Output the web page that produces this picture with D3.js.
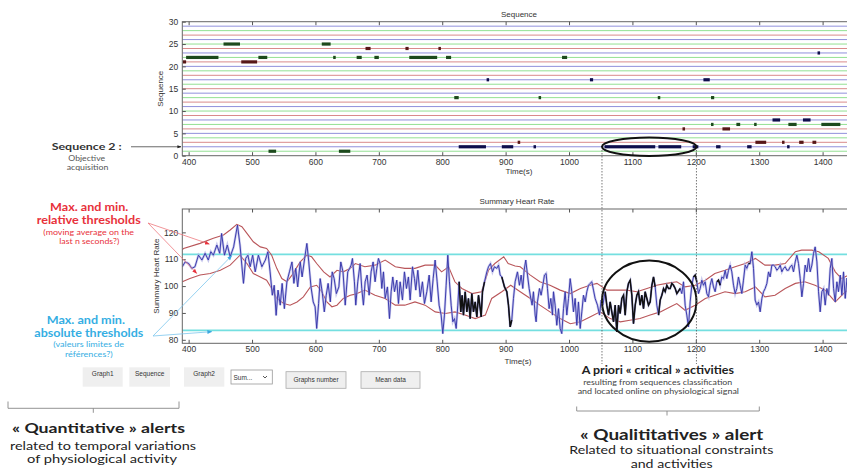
<!DOCTYPE html>
<html lang="en">
<head>
<meta charset="UTF-8">
<title>Sequence and Summary Heart Rate</title>
<script src="https://d3js.org/d3.v7.min.js"></script>
<style>
  body { margin: 0; background: #fff; }
  svg { display: block; }
  .axis text { font-family: "Liberation Sans", Arial, sans-serif; font-size: 8.5px; fill: #333; }
  .axis line { stroke: #555; }
  .axis path { display: none; }
  .lbl { font-family: "Liberation Sans", Arial, sans-serif; font-size: 8px; fill: #333; }
  .note { font-family: Lato, "Open Sans", sans-serif; }
  .btn { font-family: "Liberation Sans", Arial, sans-serif; font-size: 6.5px; fill: #333; }
</style>
</head>
<body>
<svg id="chart" width="847" height="472"></svg>
<script>
// ---- data ----
const timeTicks = [400, 500, 600, 700, 800, 900, 1000, 1100, 1200, 1300, 1400];
const seqTicks = [0, 5, 10, 15, 20, 25, 30];
const hrTicks = [80, 90, 100, 110, 120];
const seqLevels = [1,2,3,4,5,6,7,8,9,10,11,12,13,14,15,16,17,18,19,20,21,22,23,24,25,26,27,28,29];

// [sequence, start (s), end (s)]
const seqEvents = [
  [21,391,396],[21,483,508],
  [22,396,447],[22,510,524],[22,628,632],[22,665,673],[22,693,700],[22,748,792],[22,806,814],[22,989,997],
  [25,455,481],[25,610,624],
  [24,679,687],[24,742,747],[24,794,797],
  [17,870,873],[17,1033,1038],[17,1212,1222],
  [13,819,826],[13,952,955],[13,1140,1143],[13,1224,1229],
  [1,526,538],[1,637,655],
  [2,826,869],[2,894,912],[2,944,947],[2,1056,1136],[2,1141,1177],[2,1195,1204],[2,1232,1239],[2,1281,1288],[2,1344,1347],
  [3,919,923],[3,1294,1311],[3,1336,1339],[3,1363,1370],[3,1384,1390],
  [23,1392,1396],
  [8,1321,1333],[8,1369,1381],
  [7,1224,1226],[7,1264,1270],[7,1292,1295],[7,1346,1359],[7,1398,1428],
  [6,1179,1183],[6,1242,1254]
];

// heart rate [time, bpm]
const hrPoints = [
  [390,107.2],[394.5,109],[400,108.4],[405,106.6],[410,107.2],[415.5,111.5],[421,109.7],[426,112.2],[431,109.7],[435,112.8],
  [439,111.5],[444.5,115.3],[449,112.2],[452,119.6],[456.5,111.5],[461,115.3],[465.5,110.9],[471,114.6],[477,122.7],[481,115.3],
  [486.5,101],[490,110.3],[493.5,111.5],[497,107.2],[501,111.5],[505,105.3],[510,111.5],[515.5,107.2],[521,109.7],[525,112.8],
  [528.5,105.3],[532,96.6],[535,100.3],[538,89.1],[541,98.5],[544.5,92.9],[547.5,101],[551,91.6],[555,101.6],[559,105.3],
  [563,109],[566,101],[569,106.6],[572,99.7],[576,109],[579,103.4],[583,110.3],[586.5,115.9],[589.5,109],[593,99.7],
  [596.5,94.1],[599.5,92.3],[602,84.2],[605,93.5],[607.5,102.8],[611,97.2],[614,90.4],[617,96.6],[620,101],[623.5,94.1],
  [626.5,105.3],[629.5,102.8],[633,97.2],[637,99.7],[640,109],[643.5,105.3],[647,92.9],[651,105.3],[654,106.6],
  [656.3,107.8],[658.4,110.3],[661.5,101.6],[663.6,92.9],[666.8,101.6],[670.5,108.4],[673.1,99.1],[675.7,92.9],[678.4,101.6],[681.5,104.1],
  [684.7,96.6],[687.8,105.3],[691,109],[694.1,101.6],[696.8,106.6],[699.4,110.3],[702,108.4],[704.7,99.1],[707.3,105.3],[710,95.4],
  [713.6,99.7],[716.8,87.9],[719.4,97.9],[722,103.4],[724.7,97.9],[728.3,102.2],[731,93.5],[733.6,101.6],[737.3,94.8],[740.4,105.3],
  [743.6,99.1],[746.7,103.4],[749.4,94.8],[753.1,107.2],[756.2,102.8],[758.3,98.5],[761.5,105.9],[765.2,96],[768.8,101.6],[772,93.5],
  [775.7,97.9],[779.4,104.1],[782.5,94.1],[785.7,102.8],[788.8,109.7],[792,101.6],[795.1,92.9],[798.3,89.2],[800.9,82.3],[803.5,89.2],
  [806.2,100.3],[808.8,111.5],[811.4,101.6],[814.1,92.9],[816.7,86.7],[819.3,87.9],[822,84.2],[824.6,92.9],[826.7,101.6],[829.3,90.4],
  [831.4,96.6],[833.5,89.2],[836.2,97.9],[838.8,90.4],[841.4,95.4],[844.1,87.9],[846.7,97.2],[849.3,90.4],[852,94.1],[854.6,88.5],
  [857.2,96.6],[859.3,92.9],[861.4,88.5],[863.5,97.9],[866.7,101.6],[870.4,105.3],[873,107.2],[876.1,108.4],[879.3,105.3],[882.4,107.2],
  [886.1,106.6],[888.8,107.8],[891.4,104.1],[894,103.4],[898.2,99.7],[901.9,97.9],[904.5,92.9],[907.2,84.8],
  [909.7,87.3],[912.4,95.4],[915,101.6],[918.7,105.3],[921.8,100.3],[924.5,104.1],[927.1,99.1],[929.2,105.9],[931.8,109.7],[934.5,104.1],
  [937.1,99.1],[939.7,95.4],[941.8,92.9],[943.9,97.9],[946.6,89.2],[948.1,86.7],[950.2,94.1],[953.4,99.1],[956,96.6],[958.7,100.3],
  [961.3,104.1],[963.9,104.7],[966,99.1],[968.6,91.6],[971.3,95.4],[973.9,89.2],[975.5,97.9],[978.1,92.9],[980.7,85.4],[983.4,91.6],
  [986,84.2],[988.6,82.3],[991.3,91.6],[993.9,97.9],[996.5,89.2],[999.2,95.4],[1001.8,102.8],[1004.4,97.9],[1007,90.4],[1009.7,95.4],
  [1012.3,85.4],[1014.9,94.1],[1017.6,84.2],[1020.2,90.4],[1022.8,96.6],[1025.5,94.1],[1028.1,97.9],[1030.7,100.3],[1033.3,101],[1036,101.6],
  [1038.6,98.5],[1041.2,95.4],[1044.9,92.9],[1048.1,89.2],[1050.7,94.8],[1053.3,92.9],[1057,97.9],[1059.6,92.9],[1062.3,89.2],[1064.9,94.1],
  [1067.5,90.4],[1070.2,86.7],[1072.8,92.9],[1075.4,82.9],[1078.1,92.9],[1080.7,89.8],[1083.3,95.4],[1086,96.6],[1088.6,89.2],[1091.2,97.9],
  [1093.8,101],[1096.5,102.2],[1099.1,96.6],[1101.7,86],[1104.4,92.9],[1107,96.6],[1109.6,97.9],[1112.2,92.9],[1114.9,96.6],[1117.5,91.6],
  [1120.1,97.9],[1122.8,95.4],[1125.4,92.9],[1128,94.1],[1130.7,100.3],[1133.3,103.4],[1135.9,99.7],[1138.5,92.9],[1141.2,89.2],[1143.8,94.8],
  [1146.4,96.6],[1149.1,99.1],[1151.7,97.9],[1154.3,100.3],[1157,99.1],[1159.6,99.1],[1162.2,101],[1164.8,100.3],[1167.5,99.1],[1170.1,97.2],
  [1175.3,99.1],[1177.9,97.2],[1180.6,101.6],[1183.2,92.9],[1185.8,89.2],[1188.4,84.8],[1191.1,94.1],[1193.7,100.3],[1196.3,103.4],[1199,104.1],
  [1201.6,101.6],[1204.2,97.2],[1206.9,99.1],[1209.5,102.2],[1212.1,100.3],[1214.7,101.6],[1217.4,97.2],[1220,96],[1222.6,100.3],[1225.3,102.8],
  [1227.9,99.7],[1230.5,97.9],[1233.2,101.6],[1235.8,102.2],[1238.4,100.3],[1241,103.4],[1243.7,102.8],[1246.3,105.9],[1248.9,102.8],[1251.6,105.9],
  [1254.2,107.8],[1256.8,105.3],[1259.5,100.3],[1262.1,97.2],[1264.7,99.1],[1267.3,103.4],[1270,100.3],[1272.6,97.2],[1275.2,102.2],[1277.9,107.8],
  [1280.5,106.6],[1283.1,108.4],[1285.8,108.4],[1288.4,112.8],[1291,106.6],[1293.6,94.8],[1296.3,92.9],[1298.9,94.1],[1301.5,90.4],[1304.2,95.4],
  [1306.8,97.9],[1309.4,99.1],[1312.1,101],[1314.7,105.3],[1317.3,103.4],[1319.9,107.8],[1322.6,107.8],[1325.2,107.2],[1327.8,105.9],[1330.5,106.6],
  [1333.1,107.8],[1335.7,105.3],[1338.4,106.6],[1341,107.2],[1343.6,105.9],[1346.2,105.9],[1348.9,107.2],[1351.5,107.8],[1354.1,105.3],[1356.8,109],
  [1359.4,111.5],[1362,108.4],[1364.7,102.8],[1367.3,96],[1369.9,101],[1372.5,107.8],[1375.2,105.3],[1377.8,110.3],[1380.4,105.3],[1383.1,107.8],
  [1385.7,112.2],[1388.3,114.6],[1391,109],[1393.6,97.9],[1396.2,90.4],[1398.8,97.9],[1401.5,99.1],[1404.1,92.9],[1406.7,99.1],[1409.4,96.6],
  [1412,106.6],[1414.6,110.3],[1417.3,99.1],[1419.9,94.1],[1422.5,101.6],[1425.1,97.9],[1427.8,104.1],[1430.4,96.6],[1433,105.3],[1435.7,95.4],
  [1438.5,103],[1441,99],[1444,106]
];

// relative thresholds (moving envelope) [time, bpm]
const upperRel = [
  [390,113.5],[392,114],[418,115.9],[439,117.8],[455,119],[465.5,120.9],[476,123],[484,122.1],[492,119.6],[502,116.5],
  [513,114.6],[523,114],[531,111.5],[539,106.6],[547,102.8],[555,101.6],[563,104.1],[576,109],[586.5,111.5],[594,110.9],
  [602,108.4],[613,105.3],[623,103.4],[634,105.9],[644,105.3],[655,106.6],[663,108.4],[678,107.2],[694,107.8],[710,109.7],
  [726,107.2],[741,106.6],[757,106.6],[773,107.8],[789,107.8],[799,105.3],[810,107.2],[820,101.6],[831,99.1],[847,97.2],
  [862,97.9],[873,105.9],[883,108.4],[897,110.9],[904,108.4],[915,107.5],[923,107.2],[939,104.1],[954,101.6],[970,100.3],
  [986,98.5],[1002,97.2],[1018,99.1],[1033,100.3],[1044,101],[1060,98.5],[1075,98.5],[1091,98.5],[1107,97.9],[1123,99.1],
  [1138,100.3],[1154,101],[1170,101.6],[1183,99.7],[1199,100.3],[1215,102.2],[1230,104.7],[1246,105.9],[1262,107.2],[1278,108.4],
  [1294,110.3],[1309,107.8],[1325,107.8],[1341,108.4],[1357,112.8],[1367,113.4],[1383,113.4],[1394,112.8],[1409,110.3],[1420,105.3],
  [1430,102.8],[1445,104.5]
];
const lowerRel = [
  [390,101.6],[402,102.8],[418,104.1],[434,104.7],[450,105.9],[465.5,107.8],[481,111.5],[492,108.4],[502,104.7],[513,103.4],
  [523,102.2],[531,99.1],[539,95.4],[550,93.5],[560,92.9],[571,94.1],[581,96],[592,99.7],[602,100.3],[610,97.9],
  [618,94.1],[626,92.3],[634,92.9],[644,95.4],[655,96.6],[663,97],[678,98.5],[694,96.6],[710,95.4],[726,92.9],
  [741,92.9],[757,94.1],[773,92.9],[789,90.4],[805,89.8],[820,90.4],[836,89.2],[852,87.9],[868,89.2],[878,95.4],
  [894,97.9],[908,100.3],[923,97.9],[939,95.4],[954,92.9],[970,90.4],[986,87.9],[1002,86],[1018,86.7],[1033,88.5],
  [1049,90.4],[1065,87.9],[1081,86.7],[1096,87.3],[1112,87.9],[1128,89.2],[1144,90.4],[1160,92.3],[1170,93.5],[1183,91],
  [1199,92.9],[1215,95.4],[1230,96.6],[1246,97.9],[1262,97.2],[1278,97.9],[1294,99.7],[1309,96],[1325,96.6],[1341,99.1],
  [1357,101],[1372,101.6],[1388,100.3],[1404,98.5],[1420,94.1],[1436,97.9],[1445,99]
];

// absolute thresholds
const absMax = 111.8;
const absMin = 83.5;
// critical window (time range) on the sequence 2 classification
const criticalWindow = [1052, 1201];

// ---- layout ----
const svg = d3.select("#chart");
const x = d3.scaleLinear().domain([390, 1450]).range([182.3, 854.3]);
const ySeq = d3.scaleLinear().domain([0, 30]).range([155.7, 21.7]);
const yHr = d3.scaleLinear().domain([78.7, 128.7]).range([343.3, 209]);
const fmt = d3.format("d");

const lineColor = {0: "#d98a8a", 1: "#93e093", 2: "#9090dc"};
const barColor = {0: "#571717", 1: "#1d4a1d", 2: "#0e0e4c"};

const defs = svg.append("defs");
function marker(id, color, size) {
  defs.append("marker").attr("id", id)
    .attr("viewBox", "0 0 10 10").attr("refX", 9).attr("refY", 5)
    .attr("markerWidth", size).attr("markerHeight", size)
    .attr("orient", "auto")
    .append("path").attr("d", "M0,1L10,5L0,9Z").attr("fill", color);
}
marker("arBlack", "#222", 5);
marker("arRed", "#e8313b", 6);
marker("arBlue", "#3aa8e0", 6);

defs.append("clipPath").attr("id", "clipTop").append("rect")
  .attr("x", x.range()[0]).attr("y", ySeq(30)).attr("width", x.range()[1] - x.range()[0]).attr("height", ySeq(0) - ySeq(30));
defs.append("clipPath").attr("id", "clipBot").append("rect")
  .attr("x", x.range()[0]).attr("y", yHr(128.7)).attr("width", x.range()[1] - x.range()[0]).attr("height", yHr(78.7) - yHr(128.7));

// ---- top chart: sequences ----
const seqG = svg.append("g");
const seqPlot = seqG.append("g").attr("clip-path", "url(#clipTop)");

seqPlot.selectAll("line.lvl").data(seqLevels).enter().append("line")
  .attr("x1", x.range()[0]).attr("x2", x.range()[1])
  .attr("y1", d => ySeq(d)).attr("y2", d => ySeq(d))
  .attr("stroke", d => lineColor[d % 3]).attr("stroke-width", 1);

seqPlot.selectAll("rect.ev").data(seqEvents).enter().append("rect")
  .attr("x", d => x(d[1]))
  .attr("width", d => Math.max(2.5, x(d[2]) - x(d[1])))
  .attr("y", d => ySeq(d[0]) - 1.6).attr("height", 3.2)
  .attr("fill", d => barColor[d[0] % 3]);

seqG.append("rect").attr("x", x.range()[0]).attr("y", ySeq(30))
  .attr("width", x.range()[1] - x.range()[0]).attr("height", ySeq(0) - ySeq(30))
  .attr("fill", "none").attr("stroke", "#666").attr("stroke-width", 1);

seqG.append("g").attr("class", "axis").attr("transform", `translate(0,${ySeq(0)})`)
  .call(d3.axisBottom(x).tickValues(timeTicks).tickFormat(fmt).tickSize(-3.5).tickPadding(3));
seqG.append("g").attr("class", "axis").attr("transform", `translate(0,${ySeq(30)})`)
  .call(d3.axisTop(x).tickValues(timeTicks).tickSize(-3.5).tickFormat(""));
seqG.append("g").attr("class", "axis").attr("transform", `translate(${x.range()[0]},0)`)
  .call(d3.axisLeft(ySeq).tickValues(seqTicks).tickSize(-3.5).tickPadding(4));

seqG.append("text").attr("class", "lbl").attr("x", 519).attr("y", 16.5).attr("text-anchor", "middle").text("Sequence");
seqG.append("text").attr("class", "lbl").attr("x", 519).attr("y", 174).attr("text-anchor", "middle").text("Time(s)");
seqG.append("text").attr("class", "lbl").attr("transform", `translate(163,${ySeq(15)}) rotate(-90)`)
  .attr("text-anchor", "middle").text("Sequence");

// critical window ellipse on sequence 2
seqG.append("ellipse")
  .attr("cx", (x(criticalWindow[0]) + x(criticalWindow[1])) / 2).attr("cy", ySeq(2))
  .attr("rx", (x(criticalWindow[1]) - x(criticalWindow[0])) / 2).attr("ry", 9.2)
  .attr("fill", "none").attr("stroke", "#111").attr("stroke-width", 2);

// ---- bottom chart: heart rate ----
const hrG = svg.append("g");
const hrPlot = hrG.append("g").attr("clip-path", "url(#clipBot)");

[absMax, absMin].forEach(v => {
  hrPlot.append("line").attr("x1", x.range()[0]).attr("x2", x.range()[1])
    .attr("y1", yHr(v)).attr("y2", yHr(v))
    .attr("stroke", "#74dfe0").attr("stroke-width", 1.6);
});

const line = d3.line().x(d => x(d[0])).y(d => yHr(d[1]));
[upperRel, lowerRel].forEach(data => {
  hrPlot.append("path").datum(data).attr("d", line)
    .attr("fill", "none").attr("stroke", "#b9565a").attr("stroke-width", 1.1);
});

const seq2 = seqEvents.filter(d => d[0] === 2);
const inSeq2 = t => seq2.some(d => t >= d[1] && t <= d[2]);

hrPlot.append("path").datum(hrPoints).attr("d", line)
  .attr("fill", "none").attr("stroke", "#b0b0e6").attr("stroke-width", 2.4).attr("stroke-opacity", 0.7);
hrPlot.append("path").datum(hrPoints).attr("d", line)
  .attr("fill", "none").attr("stroke", "#3636aa").attr("stroke-width", 0.95);
hrPlot.append("path").datum(hrPoints).attr("d", d3.line().x(d => x(d[0])).y(d => yHr(d[1])).defined(d => inSeq2(d[0])))
  .attr("fill", "none").attr("stroke", "#111").attr("stroke-width", 1.5);

hrG.append("rect").attr("x", x.range()[0]).attr("y", yHr(128.7))
  .attr("width", x.range()[1] - x.range()[0]).attr("height", yHr(78.7) - yHr(128.7))
  .attr("fill", "none").attr("stroke", "#666").attr("stroke-width", 1);

hrG.append("g").attr("class", "axis").attr("transform", `translate(0,${yHr(78.7)})`)
  .call(d3.axisBottom(x).tickValues(timeTicks).tickFormat(fmt).tickSize(-3.5).tickPadding(3));
hrG.append("g").attr("class", "axis").attr("transform", `translate(0,${yHr(128.7)})`)
  .call(d3.axisTop(x).tickValues(timeTicks).tickSize(-3.5).tickFormat(""));
hrG.append("g").attr("class", "axis").attr("transform", `translate(${x.range()[0]},0)`)
  .call(d3.axisLeft(yHr).tickValues(hrTicks).tickSize(-3.5).tickPadding(4));

hrG.append("text").attr("class", "lbl").attr("x", 517).attr("y", 203.5).attr("text-anchor", "middle").text("Summary Heart Rate");
hrG.append("text").attr("class", "lbl").attr("x", 518).attr("y", 364).attr("text-anchor", "middle").text("Time(s)");
hrG.append("text").attr("class", "lbl").attr("transform", `translate(158.5,${yHr(103.7)}) rotate(-90)`)
  .attr("text-anchor", "middle").text("Summary Heart Rate");

hrG.append("ellipse")
  .attr("cx", (x(criticalWindow[0]) + x(criticalWindow[1])) / 2).attr("cy", (yHr(109.5) + yHr(79.3)) / 2)
  .attr("rx", (x(criticalWindow[1]) - x(criticalWindow[0])) / 2).attr("ry", (yHr(79.3) - yHr(109.5)) / 2)
  .attr("fill", "none").attr("stroke", "#111").attr("stroke-width", 2);

// dotted markers of the critical window
criticalWindow.forEach(t => {
  svg.append("line").attr("x1", x(t)).attr("x2", x(t)).attr("y1", 150).attr("y2", 364)
    .attr("stroke", "#555").attr("stroke-width", 0.8).attr("stroke-dasharray", "1.5,1.5");
});

// ---- annotations ----
const ann = svg.append("g").attr("class", "note");
// text helper: centre x, baseline y, size, bold, colour, width in px
function note(txt, cx, y, size, bold, color, len) {
  ann.append("text").attr("x", cx).attr("y", y).attr("text-anchor", "middle")
    .attr("font-size", size).attr("font-weight", bold ? "bold" : "normal").attr("fill", color)
    .attr("textLength", len).attr("lengthAdjust", "spacingAndGlyphs").text(txt);
}

// sequence 2 pointer
note("Sequence 2 :", 86.7, 150, 10, true, "#333", 70);
note("Objective", 86.7, 161, 7.5, false, "#555", 36.7);
note("acquisition", 87.5, 170, 7.5, false, "#555", 41.6);
ann.append("line").attr("x1", 131).attr("y1", ySeq(2)).attr("x2", 181).attr("y2", ySeq(2))
  .attr("stroke", "#444").attr("stroke-width", 0.8).attr("marker-end", "url(#arBlack)");

// relative thresholds
const red = "#e8313b";
note("Max. and min.", 89.2, 211, 10.5, true, red, 78.3);
note("relative thresholds", 88.7, 224, 10.5, true, red, 104);
note("(moving average on the", 88.7, 235, 7, false, red, 90.7);
note("last n seconds?)", 89.3, 244, 7, false, red, 60);
[[209.3, 244], [196.7, 273.3]].forEach(p => {
  ann.append("line").attr("x1", 148).attr("y1", 223).attr("x2", p[0]).attr("y2", p[1])
    .attr("stroke", "#ee7a7f").attr("stroke-width", 0.8).attr("marker-end", "url(#arRed)");
});

// absolute thresholds
const blue = "#35aee3";
note("Max. and min.", 85.8, 324, 10.5, true, blue, 78.3);
note("absolute thresholds", 88.8, 337, 10.5, true, blue, 109);
note("(valeurs limites de", 88.7, 347.3, 7, false, blue, 70.7);
note("références?)", 88.8, 356.7, 7, false, blue, 47.7);
[[231.7, 255.7], [211.7, 331.7]].forEach(p => {
  ann.append("line").attr("x1", 153).attr("y1", 336).attr("x2", p[0]).attr("y2", p[1])
    .attr("stroke", "#7cc6ee").attr("stroke-width", 0.8).attr("marker-end", "url(#arBlue)");
});

// buttons
const buttons = [
  {label: "Graph1", x: 82.7, w: 40, y: 367.3, h: 19.4, border: false, ty: 376},
  {label: "Sequence", x: 129.3, w: 40.7, y: 367.3, h: 19.4, border: false, ty: 376},
  {label: "Graph2", x: 184, w: 40.3, y: 367.3, h: 19.4, border: false, ty: 376},
  {label: "Graphs number", x: 286, w: 60, y: 371.7, h: 16.6, border: true, ty: 382},
  {label: "Mean data", x: 361, w: 59, y: 371.7, h: 16.6, border: true, ty: 382}
];
const bg = svg.append("g");
buttons.forEach(b => {
  bg.append("rect").attr("x", b.x).attr("y", b.y).attr("width", b.w).attr("height", b.h)
    .attr("fill", "#efefef").attr("stroke", b.border ? "#aaa" : "none").attr("stroke-width", 0.8);
  bg.append("text").attr("class", "btn").attr("x", b.x + b.w / 2).attr("y", b.ty)
    .attr("text-anchor", "middle").text(b.label);
});
bg.append("rect").attr("x", 231).attr("y", 370).attr("width", 41.3).attr("height", 14)
  .attr("fill", "#fff").attr("stroke", "#999").attr("stroke-width", 0.8);
bg.append("text").attr("class", "btn").attr("x", 233.5).attr("y", 379.5).text("Sum...");
bg.append("path").attr("d", "M263,376 L265,378 L267,376").attr("fill", "none").attr("stroke", "#444").attr("stroke-width", 0.9);

// braces
function brace(x1, x2, yTop, yBot, xm) {
  ann.append("path")
    .attr("d", `M${x1},${yTop} L${x1},${yBot} L${x2},${yBot} L${x2},${yTop} M${xm},${yBot} L${xm},${yBot + 4.5}`)
    .attr("fill", "none").attr("stroke", "#888").attr("stroke-width", 0.9);
}
brace(8, 179, 401.5, 408.3, 93.3);
brace(576.7, 759.3, 406.5, 411, 667);

// quantitative alerts
note("« Quantitative » alerts", 98.5, 433.3, 13, true, "#222", 173);
note("related to temporal variations", 103, 449.5, 11, false, "#222", 186);
note("of physiological activity", 102, 463, 11, false, "#222", 150);

// critical activities
note("A priori « critical » activities", 657.8, 374, 10.5, true, "#222", 152.3);
note("resulting from sequences classification", 657.8, 385, 7.3, false, "#444", 149);
note("and located online on physiological signal", 658.3, 393.5, 7.3, false, "#444", 161.3);

// qualitative alert
note("« Qualititatives » alert", 671.7, 440, 16, true, "#222", 183.3);
note("Related to situational constraints", 671.3, 454, 11.5, false, "#222", 204);
note("and activities", 671.7, 468, 11.5, false, "#222", 82);
</script>
</body>
</html>
